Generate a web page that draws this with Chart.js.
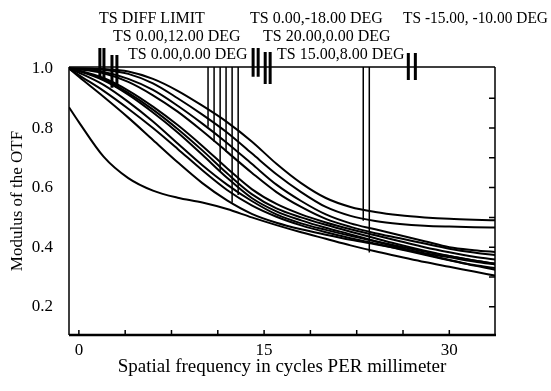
<!DOCTYPE html>
<html>
<head>
<meta charset="utf-8">
<script src="https://cdn.jsdelivr.net/npm/chart.js@4.4.0/dist/chart.umd.min.js"></script>
<style>
  html, body { margin: 0; padding: 0; background: #fff; }
  #chart { display: block; }
</style>
</head>
<body>
<canvas id="chart" width="551" height="391"></canvas>
<script>
// spatial frequency samples (cycles/mm)
const freqs = [-0.8, 0, 2, 4, 6, 8, 10, 12, 14, 16, 18, 20, 22, 24, 26, 28, 30, 32, 34];

// MTF curves
const curveA = [1.0, 1.0, 0.998, 0.99, 0.965, 0.925, 0.875, 0.82, 0.755, 0.68, 0.615, 0.565, 0.535, 0.518, 0.507, 0.5, 0.495, 0.492, 0.49];
const curveB = [1.0, 1.0, 0.996, 0.982, 0.95, 0.9, 0.845, 0.785, 0.715, 0.645, 0.585, 0.535, 0.505, 0.488, 0.478, 0.472, 0.469, 0.467, 0.466];
const curveC = [1.0, 0.998, 0.988, 0.965, 0.928, 0.875, 0.815, 0.75, 0.68, 0.61, 0.555, 0.51, 0.48, 0.46, 0.44, 0.42, 0.4, 0.39, 0.383];
const curveD = [1.0, 0.997, 0.984, 0.955, 0.91, 0.855, 0.79, 0.72, 0.65, 0.585, 0.535, 0.495, 0.468, 0.447, 0.43, 0.412, 0.395, 0.382, 0.372];
const curveE = [1.0, 0.993, 0.968, 0.926, 0.872, 0.81, 0.74, 0.665, 0.595, 0.545, 0.51, 0.483, 0.46, 0.44, 0.42, 0.4, 0.383, 0.368, 0.357];
const curveF = [1.0, 0.992, 0.964, 0.918, 0.862, 0.797, 0.725, 0.648, 0.578, 0.53, 0.5, 0.475, 0.452, 0.43, 0.408, 0.388, 0.37, 0.355, 0.343];
const curveG = [1.0, 0.991, 0.96, 0.912, 0.852, 0.785, 0.71, 0.633, 0.565, 0.52, 0.49, 0.465, 0.443, 0.42, 0.398, 0.377, 0.357, 0.34, 0.328];
const curveJ = [1.0, 0.986, 0.945, 0.888, 0.822, 0.748, 0.675, 0.61, 0.555, 0.51, 0.48, 0.458, 0.438, 0.42, 0.402, 0.385, 0.37, 0.355, 0.342];
const curveH = [1.0, 0.978, 0.925, 0.865, 0.8, 0.73, 0.658, 0.592, 0.54, 0.502, 0.473, 0.45, 0.43, 0.412, 0.393, 0.374, 0.356, 0.338, 0.322];
const curveI = [1.0, 0.972, 0.905, 0.835, 0.76, 0.685, 0.615, 0.557, 0.512, 0.482, 0.46, 0.442, 0.425, 0.41, 0.395, 0.38, 0.366, 0.352, 0.34];
const curveLow = [0.87, 0.82, 0.704, 0.632, 0.59, 0.566, 0.55, 0.528, 0.5, 0.474, 0.45, 0.428, 0.406, 0.386, 0.368, 0.35, 0.334, 0.318, 0.302];
const curves = [curveA, curveB, curveC, curveD, curveE, curveF, curveG, curveJ, curveH, curveI, curveLow];

// vertical drop lines hanging from the top edge
const dropX = [10.46, 10.95, 11.44, 11.92, 12.41, 12.9, 23.03, 23.52];
const dropBottom = [0.804, 0.754, 0.653, 0.72, 0.549, 0.575, 0.489, 0.382];

// short legend marks crossing the top edge
const markX = [1.70, 2.03, 2.68, 3.08, 14.11, 14.52, 15.09, 15.49, 26.68, 27.25];
const markTop = [1.069, 1.069, 1.045, 1.045, 1.069, 1.069, 1.055, 1.055, 1.052, 1.052];
const markBottom = [0.968, 0.968, 0.935, 0.935, 0.972, 0.972, 0.948, 0.948, 0.961, 0.961];

// axis ticks
const xTickLabels = [0, 15, 30];
const xMinorTicks = [0, 3.75, 7.5, 11.25, 15, 18.75, 22.5, 26.25, 30];
const yTickLabels = [0.2, 0.4, 0.6, 0.8, 1.0];
const yMinorTicks = [0.2, 0.3, 0.4, 0.5, 0.6, 0.7, 0.8, 0.9];

// legend text
const legendLabels = ['TS DIFF LIMIT', 'TS 0.00,-18.00 DEG', 'TS -15.00, -10.00 DEG',
                      'TS 0.00,12.00 DEG', 'TS 20.00,0.00 DEG',
                      'TS 0.00,0.00 DEG', 'TS 15.00,8.00 DEG'];
const legendLayout = [[99, 23], [250, 23], [403, 23], [113, 41], [263, 41], [128, 59], [277, 59]];

const SERIF = '"Liberation Serif", "Times New Roman", serif';

const datasets = [];

curves.forEach(c => {
    datasets.push({
        data: freqs.map((f, i) => ({ x: f, y: c[i] })),
        borderColor: '#000',
        borderWidth: 2,
        pointRadius: 0,
        cubicInterpolationMode: 'monotone',
        fill: false
    });
});

dropX.forEach((vx, i) => {
    datasets.push({
        data: [{ x: vx, y: 1.005 }, { x: vx, y: dropBottom[i] }],
        borderColor: '#000',
        borderWidth: 1.5,
        pointRadius: 0
    });
});

markX.forEach((mx, i) => {
    datasets.push({
        data: [{ x: mx, y: markTop[i] }, { x: mx, y: markBottom[i] }],
        borderColor: '#000',
        borderWidth: 3,
        pointRadius: 0,
        clip: false
    });
});

const framePlugin = {
    id: 'frame',
    afterDatasetsDraw(chart) {
        const { ctx, chartArea: a, scales: { x, y } } = chart;
        ctx.save();
        ctx.strokeStyle = '#000';
        ctx.lineWidth = 1.5;
        ctx.beginPath();
        ctx.moveTo(a.left, a.top); ctx.lineTo(a.right, a.top);
        ctx.moveTo(a.left, a.top); ctx.lineTo(a.left, a.bottom);
        ctx.moveTo(a.right, a.top); ctx.lineTo(a.right, a.bottom);
        ctx.stroke();
        ctx.lineWidth = 2.5;
        ctx.beginPath();
        ctx.moveTo(a.left, a.bottom); ctx.lineTo(a.right + 1, a.bottom);
        ctx.stroke();

        // inward tick marks on bottom and right
        ctx.lineWidth = 1.5;
        ctx.beginPath();
        xMinorTicks.forEach(v => {
            const px = x.getPixelForValue(v);
            ctx.moveTo(px, a.bottom); ctx.lineTo(px, a.bottom - 5);
        });
        yMinorTicks.forEach(v => {
            const py = y.getPixelForValue(v);
            ctx.moveTo(a.right, py); ctx.lineTo(a.right - 6, py);
        });
        ctx.stroke();

        // legend labels
        ctx.fillStyle = '#000';
        ctx.font = '16px ' + SERIF;
        ctx.textBaseline = 'alphabetic';
        legendLabels.forEach((t, i) => {
            const [lx, ly] = legendLayout[i];
            ctx.fillText(t, lx, ly, chart.width - lx - 3);
        });
        ctx.restore();
    }
};

new Chart(document.getElementById('chart'), {
    type: 'line',
    data: { datasets: datasets },
    options: {
        responsive: false,
        animation: false,
        layout: { padding: { top: 67, right: 56, bottom: 0, left: 0 } },
        plugins: {
            legend: { display: false },
            tooltip: { enabled: false }
        },
        scales: {
            x: {
                type: 'linear',
                min: -0.8,
                max: 33.7,
                afterBuildTicks: (s) => { s.ticks = xTickLabels.map(v => ({ value: v })); },
                afterFit: (s) => { s.height = 56; },
                grid: { display: false, drawTicks: false },
                border: { display: false },
                ticks: {
                    padding: 5,
                    color: '#000',
                    font: { family: SERIF, size: 17 },
                    callback: (v) => String(v)
                },
                title: {
                    display: true,
                    text: 'Spatial frequency in cycles PER millimeter',
                    color: '#000',
                    font: { family: SERIF, size: 19 },
                    padding: { top: 0, bottom: 13 }
                }
            },
            y: {
                type: 'linear',
                min: 0.105,
                max: 1.005,
                afterBuildTicks: (s) => { s.ticks = yTickLabels.map(v => ({ value: v })); },
                afterFit: (s) => { s.width = 69; },
                grid: { display: false, drawTicks: false },
                border: { display: false },
                ticks: {
                    padding: 16,
                    color: '#000',
                    font: { family: SERIF, size: 17 },
                    callback: (v) => v.toFixed(1)
                },
                title: {
                    display: true,
                    text: 'Modulus of the OTF',
                    color: '#000',
                    font: { family: SERIF, size: 17 },
                    padding: { top: 7, bottom: 0 }
                }
            }
        }
    },
    plugins: [framePlugin]
});
</script>
</body>
</html>
